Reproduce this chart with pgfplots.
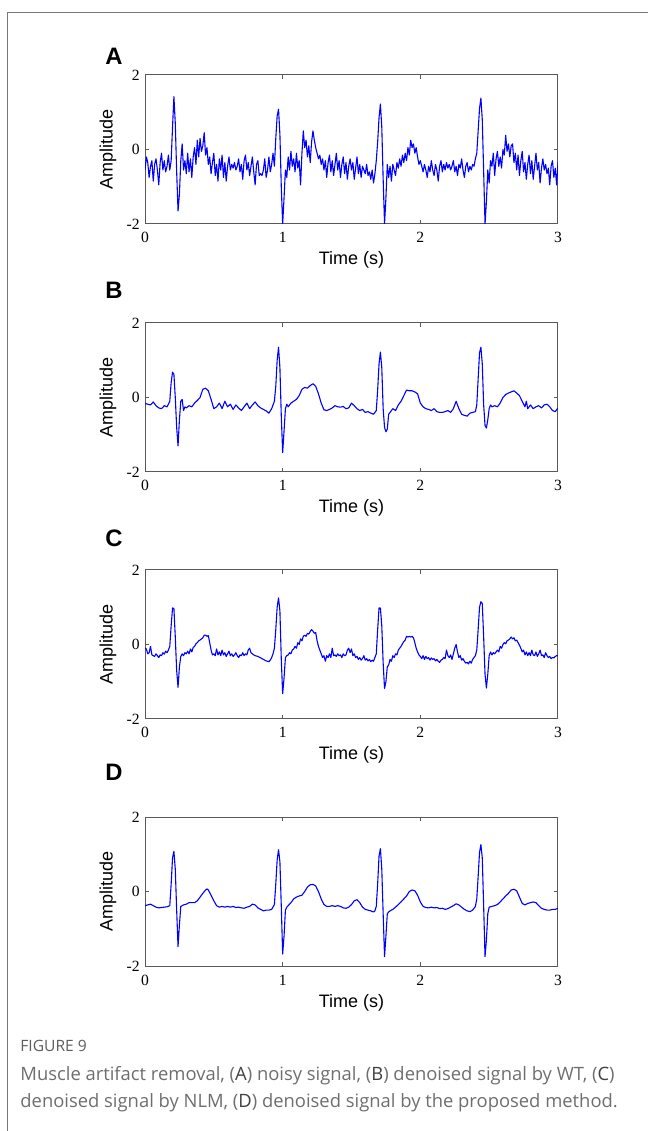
\documentclass[border=0pt]{standalone}
\usepackage{fontspec}
\setmainfont{Liberation Sans}
\newfontfamily\tickfont{Liberation Serif}
\newfontfamily\capfont{Open Sans}
\usepackage{pgfplots}
\usepackage{pgfplotstable}
\pgfplotsset{compat=1.18}
\definecolor{sig}{RGB}{0,0,255}
\definecolor{capgray}{RGB}{110,110,110}
\definecolor{framegray}{RGB}{120,120,120}

\pgfplotstableread[row sep=\\]{t y\\
0.00 -0.55\\0.01 -0.20\\0.02 -0.35\\0.03 -0.75\\0.04 -0.45\\0.05 -0.30\\0.06 -0.85\\0.07 -0.40\\0.08 -0.25\\0.09 -0.55\\
0.10 -0.95\\0.11 -0.35\\0.12 -0.10\\0.13 -0.55\\0.14 -0.30\\0.15 -0.60\\0.16 -0.45\\0.17 -0.15\\0.18 -0.55\\0.19 -0.30\\
0.20 0.60\\0.21 1.42\\0.22 0.70\\0.23 -0.60\\0.24 -1.65\\0.25 -1.20\\0.26 -0.30\\0.27 0.15\\0.28 -0.55\\0.29 -0.30\\
0.30 -0.65\\0.31 -0.10\\0.32 -0.60\\0.33 -0.25\\0.34 -0.75\\0.35 -0.20\\0.36 0.05\\0.37 -0.40\\0.38 0.25\\0.39 -0.20\\
0.40 0.30\\0.41 -0.05\\0.42 0.10\\0.43 0.45\\0.44 -0.15\\0.45 0.05\\0.46 -0.40\\0.47 -0.20\\0.48 -0.65\\0.49 -0.35\\
0.50 -0.10\\0.51 -0.70\\0.52 -0.40\\0.53 -0.85\\0.54 -0.25\\0.55 -0.55\\0.56 -0.15\\0.57 -0.75\\0.58 -0.35\\0.59 -0.85\\
0.60 -0.45\\0.61 -0.20\\0.62 -0.55\\0.63 -0.40\\0.64 -0.50\\0.65 -0.35\\0.66 -0.55\\0.67 -0.45\\0.68 -0.25\\0.69 -0.60\\
0.70 -0.40\\0.71 -0.80\\0.72 -0.30\\0.73 -0.15\\0.74 -0.55\\0.75 -0.35\\0.76 -0.70\\0.77 -0.45\\0.78 -0.20\\0.79 -0.60\\
0.80 -0.95\\0.81 -0.40\\0.82 -0.30\\0.83 -0.70\\0.84 -0.65\\0.85 -0.70\\0.86 -0.55\\0.87 -0.25\\0.88 -0.75\\0.89 -0.55\\
0.90 -0.20\\0.91 -0.60\\0.92 -0.40\\0.93 -0.10\\0.94 -0.45\\0.95 0.30\\0.96 0.90\\0.97 1.08\\0.98 0.40\\0.99 -1.00\\
1.00 -2.00\\1.01 -1.30\\1.02 -0.55\\1.03 -0.75\\1.04 -0.20\\1.05 -0.55\\1.06 -0.05\\1.07 -0.45\\1.08 -0.25\\1.09 -0.60\\
1.10 -0.10\\1.11 -0.50\\1.12 -0.30\\1.13 -0.95\\1.14 -0.10\\1.15 0.50\\1.16 0.05\\1.17 0.25\\1.18 -0.20\\1.19 0.10\\
1.20 -0.35\\1.21 0.20\\1.22 0.50\\1.23 0.25\\1.24 0.05\\1.25 -0.10\\1.26 -0.25\\1.27 -0.15\\1.28 -0.40\\1.29 -0.25\\
1.30 -0.55\\1.31 -0.30\\1.32 -0.75\\1.33 -0.35\\1.34 -0.15\\1.35 -0.60\\1.36 -0.30\\1.37 -0.70\\1.38 -0.40\\1.39 -0.10\\
1.40 -0.55\\1.41 -0.30\\1.42 -0.75\\1.43 -0.40\\1.44 -0.20\\1.45 -0.65\\1.46 -0.35\\1.47 -0.80\\1.48 -0.45\\1.49 -0.25\\
1.50 -0.55\\1.51 -0.35\\1.52 -0.80\\1.53 -0.50\\1.54 -0.20\\1.55 -0.65\\1.56 -0.40\\1.57 -0.75\\1.58 -0.45\\1.59 -0.55\\
1.60 -0.65\\1.61 -0.40\\1.62 -0.70\\1.63 -0.60\\1.64 -0.80\\1.65 -0.55\\1.66 -0.90\\1.67 -0.65\\1.68 -0.30\\1.69 0.20\\
1.70 0.85\\1.71 1.22\\1.72 0.60\\1.73 -0.80\\1.74 -2.00\\1.75 -1.30\\1.76 -0.40\\1.77 -0.75\\1.78 -0.45\\1.79 -0.85\\
1.80 -0.40\\1.81 -0.55\\1.82 -0.70\\1.83 -0.35\\1.84 -0.50\\1.85 -0.25\\1.86 -0.45\\1.87 -0.15\\1.88 -0.35\\1.89 -0.10\\
1.90 -0.30\\1.91 0.05\\1.92 -0.15\\1.93 0.25\\1.94 0.05\\1.95 0.15\\1.96 -0.10\\1.97 0.05\\1.98 -0.20\\1.99 -0.40\\
2.00 -0.30\\2.01 -0.45\\2.02 -0.60\\2.03 -0.40\\2.04 -0.55\\2.05 -0.75\\2.06 -0.45\\2.07 -0.60\\2.08 -0.30\\2.09 -0.55\\
2.10 -0.70\\2.11 -0.40\\2.12 -0.55\\2.13 -0.85\\2.14 -0.45\\2.15 -0.30\\2.16 -0.60\\2.17 -0.40\\2.18 -0.55\\2.19 -0.35\\
2.20 -0.50\\2.21 -0.40\\2.22 -0.55\\2.23 -0.45\\2.24 -0.30\\2.25 -0.60\\2.26 -0.45\\2.27 -0.70\\2.28 -0.40\\2.29 -0.50\\
2.30 -0.25\\2.31 -0.55\\2.32 -0.75\\2.33 -0.45\\2.34 -0.35\\2.35 -0.60\\2.36 -0.45\\2.37 -0.55\\2.38 -0.40\\2.39 -0.45\\
2.40 -0.25\\2.41 -0.10\\2.42 0.50\\2.43 1.10\\2.44 1.38\\2.45 0.80\\2.46 -0.60\\2.47 -2.00\\2.48 -1.40\\2.49 -0.55\\
2.50 -0.90\\2.51 -0.30\\2.52 -0.45\\2.53 -0.10\\2.54 -0.70\\2.55 -0.25\\2.56 -0.05\\2.57 -0.45\\2.58 -0.20\\2.59 -0.50\\
2.60 0.00\\2.61 -0.15\\2.62 0.38\\2.63 -0.05\\2.64 0.15\\2.65 -0.20\\2.66 0.10\\2.67 0.15\\2.68 -0.35\\2.69 -0.10\\
2.70 -0.55\\2.71 -0.15\\2.72 -0.70\\2.73 -0.30\\2.74 -0.05\\2.75 -0.60\\2.76 -0.35\\2.77 -0.80\\2.78 -0.40\\2.79 -0.15\\
2.80 -0.65\\2.81 -0.30\\2.82 -0.80\\2.83 -0.45\\2.84 -0.10\\2.85 -0.55\\2.86 -0.35\\2.87 -0.90\\2.88 -0.50\\2.89 -0.25\\
2.90 -0.55\\2.91 -0.40\\2.92 -0.65\\2.93 -0.50\\2.94 -0.95\\2.95 -0.45\\2.96 -0.30\\2.97 -0.75\\2.98 -0.50\\2.99 -0.95\\
3.00 -0.35\\
}\dataA

\pgfplotstableread[row sep=\\]{t y\\
0.00 -0.16\\0.02 -0.18\\0.04 -0.20\\0.06 -0.12\\0.08 -0.22\\0.10 -0.28\\0.12 -0.30\\0.14 -0.22\\0.16 -0.25\\0.17 -0.18\\
0.18 -0.10\\0.19 0.40\\0.20 0.68\\0.21 0.62\\0.22 0.00\\0.23 -0.80\\0.24 -1.30\\0.25 -0.60\\0.26 -0.10\\0.27 -0.05\\
0.28 -0.35\\0.29 -0.25\\0.30 -0.28\\0.32 -0.22\\0.34 -0.25\\0.36 -0.15\\0.38 -0.08\\0.40 0.00\\0.42 0.22\\0.44 0.25\\
0.46 0.18\\0.48 -0.05\\0.50 -0.30\\0.52 -0.25\\0.54 -0.15\\0.56 -0.30\\0.58 -0.10\\0.60 -0.25\\0.62 -0.18\\0.64 -0.32\\
0.66 -0.20\\0.68 -0.28\\0.70 -0.35\\0.72 -0.25\\0.74 -0.15\\0.76 -0.30\\0.78 -0.20\\0.80 -0.12\\0.82 -0.22\\0.84 -0.28\\
0.86 -0.32\\0.88 -0.36\\0.90 -0.42\\0.92 -0.30\\0.94 -0.10\\0.95 0.30\\0.96 1.00\\0.97 1.35\\0.98 0.80\\0.99 -0.50\\
1.00 -1.48\\1.01 -0.90\\1.02 -0.30\\1.03 -0.18\\1.04 -0.25\\1.06 -0.15\\1.08 -0.10\\1.10 -0.05\\1.12 0.05\\1.14 0.22\\
1.16 0.27\\1.18 0.25\\1.20 0.32\\1.22 0.37\\1.24 0.30\\1.26 0.10\\1.28 -0.15\\1.30 -0.33\\1.32 -0.35\\1.34 -0.32\\
1.36 -0.28\\1.38 -0.22\\1.40 -0.25\\1.42 -0.26\\1.44 -0.24\\1.46 -0.30\\1.48 -0.28\\1.50 -0.15\\1.52 -0.22\\1.54 -0.30\\
1.56 -0.35\\1.58 -0.32\\1.60 -0.40\\1.62 -0.38\\1.64 -0.42\\1.66 -0.45\\1.68 -0.35\\1.69 0.20\\1.70 0.90\\1.71 1.22\\
1.72 0.80\\1.73 -0.30\\1.74 -0.80\\1.75 -0.92\\1.76 -0.85\\1.77 -0.45\\1.78 -0.40\\1.80 -0.30\\1.82 -0.35\\1.84 -0.20\\
1.86 -0.10\\1.88 0.05\\1.90 0.20\\1.92 0.18\\1.94 0.18\\1.96 0.15\\1.98 0.10\\2.00 -0.15\\2.02 -0.25\\2.04 -0.30\\
2.06 -0.32\\2.08 -0.35\\2.10 -0.30\\2.12 -0.38\\2.14 -0.40\\2.16 -0.40\\2.18 -0.38\\2.20 -0.35\\2.22 -0.40\\2.24 -0.30\\
2.26 -0.10\\2.28 -0.30\\2.30 -0.45\\2.32 -0.48\\2.34 -0.50\\2.36 -0.42\\2.38 -0.40\\2.40 -0.38\\2.41 -0.20\\2.42 0.50\\
2.43 1.20\\2.44 1.35\\2.45 0.90\\2.46 -0.20\\2.47 -0.75\\2.48 -0.82\\2.49 -0.60\\2.50 -0.30\\2.51 -0.20\\2.52 -0.25\\
2.54 -0.22\\2.56 -0.25\\2.58 -0.15\\2.60 0.00\\2.62 0.08\\2.64 0.12\\2.66 0.15\\2.68 0.18\\2.70 0.12\\2.72 0.05\\
2.74 -0.10\\2.76 -0.25\\2.77 -0.10\\2.78 -0.30\\2.80 -0.20\\2.82 -0.30\\2.84 -0.25\\2.86 -0.22\\2.88 -0.28\\2.90 -0.20\\
2.92 -0.18\\2.94 -0.25\\2.96 -0.35\\2.98 -0.38\\3.00 -0.28\\
}\dataB

\pgfplotstableread[row sep=\\]{t y\\
0.00 -0.10\\0.01 -0.12\\0.02 -0.25\\0.03 -0.22\\0.04 -0.05\\0.05 -0.28\\0.06 -0.30\\0.07 -0.32\\0.08 -0.25\\0.09 -0.30\\
0.10 -0.35\\0.11 -0.28\\0.12 -0.30\\0.13 -0.22\\0.14 -0.26\\0.15 -0.18\\0.16 -0.22\\0.17 -0.15\\0.18 -0.05\\0.19 0.50\\
0.20 0.98\\0.21 0.97\\0.22 0.20\\0.23 -0.70\\0.24 -1.15\\0.25 -0.60\\0.26 -0.32\\0.27 -0.25\\0.28 -0.30\\0.29 -0.22\\
0.30 -0.25\\0.31 -0.18\\0.32 -0.25\\0.33 -0.12\\0.34 -0.20\\0.35 -0.08\\0.36 -0.05\\0.37 0.02\\0.38 0.05\\0.39 0.10\\
0.40 0.12\\0.41 0.15\\0.42 0.18\\0.43 0.25\\0.44 0.25\\0.45 0.22\\0.46 0.24\\0.47 0.05\\0.48 -0.15\\0.49 -0.28\\
0.50 -0.25\\0.51 -0.30\\0.52 -0.12\\0.53 -0.28\\0.54 -0.20\\0.55 -0.30\\0.56 -0.15\\0.57 -0.28\\0.58 -0.22\\0.59 -0.32\\
0.60 -0.25\\0.61 -0.18\\0.62 -0.30\\0.63 -0.25\\0.64 -0.32\\0.65 -0.28\\0.66 -0.22\\0.67 -0.30\\0.68 -0.35\\0.69 -0.28\\
0.70 -0.30\\0.71 -0.22\\0.72 -0.30\\0.73 -0.25\\0.74 -0.28\\0.75 -0.15\\0.76 -0.10\\0.77 -0.22\\0.78 -0.25\\0.79 -0.28\\
0.80 -0.30\\0.82 -0.32\\0.84 -0.36\\0.86 -0.40\\0.88 -0.44\\0.90 -0.46\\0.91 -0.42\\0.92 -0.35\\0.93 -0.25\\0.94 -0.10\\
0.95 0.40\\0.96 1.00\\0.97 1.25\\0.98 0.90\\0.99 -0.40\\1.00 -1.32\\1.01 -0.90\\1.02 -0.35\\1.03 -0.30\\1.04 -0.28\\
1.05 -0.22\\1.06 -0.25\\1.07 -0.15\\1.08 -0.12\\1.09 -0.05\\1.10 -0.10\\1.11 0.05\\1.12 0.00\\1.13 0.15\\1.14 0.10\\
1.15 0.22\\1.16 0.25\\1.17 0.22\\1.18 0.30\\1.19 0.28\\1.20 0.35\\1.21 0.40\\1.22 0.36\\1.23 0.30\\1.24 0.32\\
1.25 0.10\\1.26 -0.05\\1.27 -0.15\\1.28 -0.25\\1.29 -0.35\\1.30 -0.30\\1.31 -0.45\\1.32 -0.30\\1.33 -0.35\\1.34 -0.25\\
1.35 -0.35\\1.36 -0.10\\1.37 -0.30\\1.38 -0.28\\1.39 -0.32\\1.40 -0.25\\1.41 -0.30\\1.42 -0.28\\1.43 -0.35\\1.44 -0.25\\
1.45 -0.30\\1.46 -0.28\\1.47 -0.15\\1.48 -0.10\\1.49 -0.22\\1.50 -0.12\\1.51 -0.30\\1.52 -0.25\\1.53 -0.35\\1.54 -0.32\\
1.55 -0.40\\1.56 -0.35\\1.57 -0.42\\1.58 -0.38\\1.59 -0.30\\1.60 -0.42\\1.61 -0.38\\1.62 -0.44\\1.63 -0.40\\1.64 -0.46\\
1.65 -0.42\\1.66 -0.45\\1.67 -0.35\\1.68 -0.25\\1.69 0.40\\1.70 0.98\\1.71 0.98\\1.72 0.50\\1.73 -0.50\\1.74 -1.18\\
1.75 -1.00\\1.76 -0.60\\1.77 -0.55\\1.78 -0.40\\1.79 -0.45\\1.80 -0.30\\1.81 -0.35\\1.82 -0.25\\1.83 -0.28\\1.84 -0.15\\
1.85 -0.10\\1.86 -0.05\\1.87 0.02\\1.88 0.08\\1.89 0.12\\1.90 0.22\\1.91 0.20\\1.92 0.22\\1.93 0.20\\1.94 0.22\\
1.95 0.18\\1.96 0.05\\1.97 -0.10\\1.98 -0.20\\1.99 -0.28\\2.00 -0.32\\2.01 -0.38\\2.02 -0.30\\2.03 -0.40\\2.04 -0.32\\
2.05 -0.38\\2.06 -0.35\\2.07 -0.42\\2.08 -0.36\\2.09 -0.40\\2.10 -0.38\\2.11 -0.44\\2.12 -0.40\\2.13 -0.45\\2.14 -0.48\\
2.15 -0.42\\2.16 -0.40\\2.17 -0.35\\2.18 -0.38\\2.19 -0.15\\2.20 -0.30\\2.21 -0.35\\2.22 -0.28\\2.23 -0.40\\2.24 -0.25\\
2.25 -0.10\\2.26 0.00\\2.27 -0.20\\2.28 -0.35\\2.29 -0.30\\2.30 -0.42\\2.31 -0.38\\2.32 -0.45\\2.33 -0.50\\2.34 -0.48\\
2.35 -0.52\\2.36 -0.45\\2.37 -0.50\\2.38 -0.40\\2.39 -0.35\\2.40 -0.30\\2.41 -0.15\\2.42 0.40\\2.43 1.00\\2.44 1.15\\
2.45 1.10\\2.46 0.20\\2.47 -0.80\\2.48 -1.17\\2.49 -0.80\\2.50 -0.30\\2.51 -0.20\\2.52 -0.28\\2.53 -0.22\\2.54 -0.25\\
2.55 -0.20\\2.56 -0.15\\2.57 -0.20\\2.58 -0.05\\2.59 -0.10\\2.60 0.00\\2.61 0.05\\2.62 0.02\\2.63 0.10\\2.64 0.12\\
2.65 0.15\\2.66 0.20\\2.67 0.15\\2.68 0.18\\2.69 0.10\\2.70 0.12\\2.71 0.05\\2.72 -0.02\\2.73 -0.10\\2.74 -0.20\\
2.75 -0.15\\2.76 -0.28\\2.77 -0.20\\2.78 -0.30\\2.79 -0.22\\2.80 -0.30\\2.81 -0.15\\2.82 -0.28\\2.83 -0.30\\2.84 -0.20\\
2.85 -0.32\\2.86 -0.25\\2.87 -0.15\\2.88 -0.30\\2.89 -0.28\\2.90 -0.35\\2.91 -0.22\\2.92 -0.30\\2.93 -0.35\\2.94 -0.32\\
2.95 -0.38\\2.96 -0.35\\2.97 -0.36\\2.98 -0.32\\2.99 -0.30\\3.00 -0.30\\
}\dataC

\pgfplotstableread[row sep=\\]{t y\\
0.00 -0.38\\0.02 -0.36\\0.04 -0.34\\0.06 -0.38\\0.08 -0.42\\0.10 -0.44\\0.12 -0.43\\0.14 -0.42\\0.16 -0.41\\0.18 -0.38\\
0.19 0.20\\0.20 0.90\\0.21 1.08\\0.22 0.60\\0.23 -0.50\\0.24 -1.48\\0.25 -0.90\\0.26 -0.40\\0.27 -0.38\\0.28 -0.36\\
0.30 -0.34\\0.32 -0.30\\0.34 -0.30\\0.36 -0.30\\0.38 -0.25\\0.40 -0.15\\0.42 -0.05\\0.44 0.04\\0.45 0.07\\0.46 0.04\\
0.48 -0.10\\0.50 -0.25\\0.52 -0.38\\0.54 -0.42\\0.56 -0.40\\0.58 -0.42\\0.60 -0.40\\0.62 -0.42\\0.64 -0.40\\0.66 -0.43\\
0.68 -0.42\\0.70 -0.44\\0.72 -0.45\\0.74 -0.42\\0.76 -0.40\\0.78 -0.34\\0.80 -0.36\\0.82 -0.44\\0.84 -0.48\\0.86 -0.52\\
0.88 -0.50\\0.90 -0.50\\0.92 -0.48\\0.94 -0.35\\0.95 0.20\\0.96 0.85\\0.97 1.12\\0.98 0.80\\0.99 -0.40\\1.00 -1.68\\
1.01 -1.20\\1.02 -0.50\\1.03 -0.42\\1.04 -0.38\\1.06 -0.30\\1.08 -0.20\\1.10 -0.15\\1.12 -0.12\\1.14 -0.10\\1.16 0.00\\
1.18 0.12\\1.20 0.18\\1.22 0.19\\1.24 0.15\\1.26 0.00\\1.28 -0.20\\1.30 -0.35\\1.32 -0.40\\1.34 -0.40\\1.36 -0.38\\
1.38 -0.40\\1.40 -0.38\\1.42 -0.40\\1.44 -0.44\\1.46 -0.45\\1.48 -0.42\\1.50 -0.35\\1.52 -0.25\\1.54 -0.22\\1.56 -0.30\\
1.58 -0.42\\1.60 -0.48\\1.62 -0.50\\1.64 -0.52\\1.66 -0.55\\1.67 -0.52\\1.68 -0.40\\1.69 0.20\\1.70 0.95\\1.71 1.15\\
1.72 0.60\\1.73 -0.60\\1.74 -1.75\\1.75 -1.20\\1.76 -0.60\\1.77 -0.55\\1.78 -0.52\\1.80 -0.48\\1.82 -0.42\\1.84 -0.35\\
1.86 -0.28\\1.88 -0.20\\1.90 -0.12\\1.92 0.00\\1.94 0.04\\1.96 0.02\\1.98 -0.10\\2.00 -0.28\\2.02 -0.40\\2.04 -0.43\\
2.06 -0.44\\2.08 -0.42\\2.10 -0.44\\2.12 -0.43\\2.14 -0.46\\2.16 -0.45\\2.18 -0.48\\2.20 -0.46\\2.22 -0.42\\2.24 -0.38\\
2.26 -0.33\\2.28 -0.36\\2.30 -0.42\\2.32 -0.48\\2.34 -0.52\\2.36 -0.54\\2.38 -0.50\\2.40 -0.40\\2.41 -0.20\\2.42 0.40\\
2.43 1.05\\2.44 1.26\\2.45 0.90\\2.46 -0.40\\2.47 -1.75\\2.48 -1.30\\2.49 -0.60\\2.50 -0.42\\2.52 -0.40\\2.54 -0.38\\
2.56 -0.35\\2.58 -0.28\\2.60 -0.20\\2.62 -0.12\\2.64 -0.05\\2.66 0.04\\2.68 0.06\\2.70 0.02\\2.72 -0.15\\2.74 -0.32\\
2.76 -0.36\\2.78 -0.32\\2.80 -0.30\\2.82 -0.28\\2.84 -0.30\\2.86 -0.38\\2.88 -0.45\\2.90 -0.48\\2.92 -0.50\\2.94 -0.50\\
2.96 -0.48\\2.98 -0.48\\3.00 -0.45\\
}\dataD

\pgfplotsset{
  ecg/.style={
    anchor=south west, scale only axis,
    width=206.5pt, height=74.5pt,
    xmin=0, xmax=3, ymin=-2, ymax=2,
    xtick={0,1,2,3}, ytick={-2,0,2},
    xticklabels={0,1,2,3}, yticklabels={-2,0,2},
    tick align=inside, major tick length=2pt,
    axis line style={black!65, line width=0.5pt},
    tick style={black!65, line width=0.5pt},
    ticklabel style={font=\tickfont\fontsize{7.8}{9}\selectfont, text=black},
    xticklabel style={anchor=base, yshift=-9.5pt, inner sep=0pt},
    yticklabel style={anchor=east, inner sep=0pt, xshift=-2.5pt},
    xlabel={Time (s)}, ylabel={Amplitude},
    label style={font=\fontsize{9}{10}\selectfont},
    xlabel style={at={(axis description cs:0.5,0)}, anchor=base, yshift=-20.5pt, inner sep=0pt},
    ylabel style={at={(axis description cs:-0.0896,0.5)}, anchor=center, inner sep=0pt},
    clip=true,
  },
  sigline/.style={color=sig, line width=0.55pt, no markers, line join=round},
}

\begin{document}
\begin{tikzpicture}
\path[use as bounding box] (0,0) rectangle (324pt,565.5pt);
\draw[framegray, line width=0.5pt] (324pt,559.4pt) -- (3.9pt,559.4pt) -- (3.9pt,0pt);

\node[anchor=base west, inner sep=0pt, font=\bfseries\fontsize{11.9}{13}\selectfont] at (52.5pt,533pt) {A};
\node[anchor=base west, inner sep=0pt, font=\bfseries\fontsize{11.9}{13}\selectfont] at (52.5pt,416pt) {B};
\node[anchor=base west, inner sep=0pt, font=\bfseries\fontsize{11.9}{13}\selectfont] at (52.5pt,292pt) {C};
\node[anchor=base west, inner sep=0pt, font=\bfseries\fontsize{11.9}{13}\selectfont] at (52.5pt,175pt) {D};

\begin{axis}[ecg, at={(72.5pt,453.5pt)}]
\addplot[sigline] table[x=t,y=y] {\dataA};
\end{axis}
\begin{axis}[ecg, at={(72.5pt,329.5pt)}]
\addplot[sigline] table[x=t,y=y] {\dataB};
\end{axis}
\begin{axis}[ecg, at={(72.5pt,206pt)}]
\addplot[sigline] table[x=t,y=y] {\dataC};
\end{axis}
\begin{axis}[ecg, at={(72.5pt,82.5pt)}]
\addplot[sigline] table[x=t,y=y] {\dataD};
\end{axis}

\node[anchor=base west, inner sep=0pt, text=capgray!85!black, font=\capfont\fontsize{7.8}{9}\selectfont] at (10pt,39.5pt) {FIGURE 9};
\node[anchor=base west, inner sep=0pt, text=capgray, font=\capfont\fontsize{9.2}{11}\selectfont] at (10pt,25pt) {Muscle artifact removal, (\textcolor{black!75}{A}) noisy signal, (\textcolor{black!75}{B}) denoised signal by WT, (\textcolor{black!75}{C})};
\node[anchor=base west, inner sep=0pt, text=capgray, font=\capfont\fontsize{9.2}{11}\selectfont] at (10pt,12pt) {denoised signal by NLM, (\textcolor{black!75}{D}) denoised signal by the proposed method.};
\end{tikzpicture}
\end{document}
